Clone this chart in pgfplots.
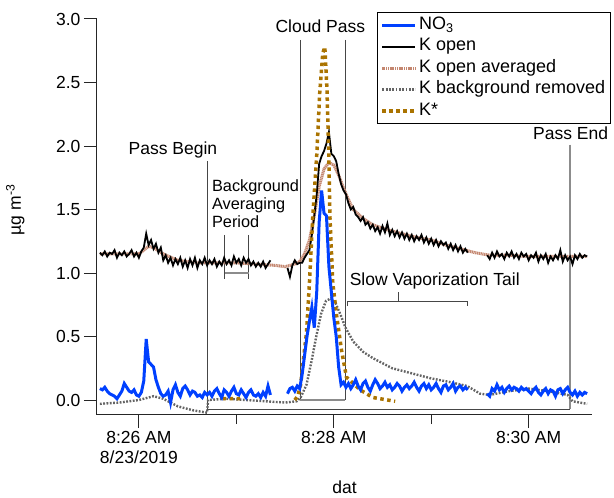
\documentclass[border=0pt]{standalone}
\usepackage{fontspec}
\setmainfont{Liberation Sans}
\usepackage{pgfplots}
\usepackage{pgfplotstable}
\pgfplotsset{compat=1.18}
\definecolor{no3blue}{RGB}{0,64,255}
\definecolor{kavg}{RGB}{196,135,112}
\definecolor{kbg}{RGB}{100,100,100}
\definecolor{kstar}{RGB}{170,115,0}
\definecolor{annc}{RGB}{70,70,70}

\pgfplotstableread{
t no3 kopen
25.600 0.09 1.16
25.625 0.08 1.14
25.650 0.10 1.17
25.675 0.07 1.13
25.700 0.05 1.16
25.725 0.04 1.15
25.750 0.03 1.18
25.775 0.01 1.12
25.800 0.04 1.16
25.825 0.07 1.14
25.850 0.13 1.17
25.875 0.10 1.13
25.900 0.07 1.15
25.925 0.06 1.18
25.950 0.08 1.13
25.975 0.04 1.16
26.000 0.03 1.12
26.025 0.06 1.17
26.050 0.15 1.20
26.075 0.48 1.31
26.100 0.30 1.22
26.125 0.28 1.26
26.150 0.26 1.19
26.175 0.16 1.23
26.200 0.10 1.16
26.225 0.05 1.20
26.250 0.03 1.10
26.275 0.04 1.14
26.300 0.07 1.08
26.325 -0.02 1.12
26.350 0.08 1.06
26.375 0.12 1.11
26.400 0.06 1.07
26.425 0.03 1.12
26.450 0.09 1.05
26.475 0.11 1.10
26.500 0.08 1.04
26.525 0.04 1.11
26.550 0.07 1.06
26.575 0.06 1.12
26.600 0.03 1.04
26.625 0.04 1.10
26.650 0.02 1.07
26.675 0.06 1.12
26.700 0.04 1.06
26.725 0.06 1.10
26.750 0.03 1.07
26.775 0.07 1.11
26.800 0.09 1.05
26.825 0.05 1.09
26.850 0.02 1.06
26.875 0.08 1.12
26.900 0.06 1.07
26.925 0.03 1.10
26.950 0.07 1.06
26.975 0.10 1.13
27.000 0.05 1.08
27.025 0.04 1.11
27.050 0.08 1.06
27.075 0.05 1.12
27.100 0.02 1.08
27.125 0.06 1.11
27.150 0.08 1.06
27.175 0.04 1.09
27.200 0.03 1.05
27.225 0.05 1.08
27.250 0.02 1.05
27.275 0.06 1.09
27.300 0.03 1.04
27.325 0.11 1.07
27.350 0.04 1.10
27.375 nan nan
27.525 0.05 1.04
27.550 0.09 0.97
27.575 0.10 1.06
27.600 0.07 1.10
27.625 0.11 1.07
27.650 0.09 1.08
27.675 0.20 1.08
27.700 0.35 1.12
27.725 0.50 1.15
27.750 0.62 1.18
27.775 0.73 1.30
27.800 0.57 1.45
27.825 0.85 1.62
27.850 1.40 1.86
27.875 1.65 1.92
27.900 1.47 1.96
27.925 1.45 2.02
27.950 1.05 2.11
27.975 0.85 1.94
28.000 0.65 1.92
28.025 0.50 1.88
28.050 0.26 1.78
28.075 0.12 1.70
28.100 0.14 1.65
28.125 0.10 1.62
28.150 0.13 1.55
28.175 0.09 1.50
28.200 0.12 1.52
28.225 0.16 1.46
28.250 0.11 1.44
28.275 0.08 1.41
28.300 0.13 1.44
28.325 0.15 1.38
28.350 0.10 1.40
28.375 0.07 1.35
28.400 0.12 1.38
28.425 0.16 1.33
28.450 0.13 1.36
28.475 0.09 1.31
28.500 0.11 1.37
28.525 0.14 1.32
28.550 0.10 1.39
28.575 0.12 1.30
28.600 0.08 1.34
28.625 0.10 1.29
28.650 0.13 1.33
28.675 0.11 1.28
28.700 0.07 1.32
28.725 0.10 1.27
28.750 0.12 1.31
28.775 0.09 1.26
28.800 0.11 1.30
28.825 0.14 1.25
28.850 0.10 1.29
28.875 0.07 1.26
28.900 0.11 1.30
28.925 0.13 1.24
28.950 0.09 1.28
28.975 0.12 1.23
29.000 0.08 1.27
29.025 0.10 1.22
29.050 0.13 1.26
29.075 0.09 1.21
29.100 0.06 1.25
29.125 0.11 1.22
29.150 0.12 1.24
29.175 0.08 1.19
29.200 0.10 1.23
29.225 0.13 1.18
29.250 0.07 1.22
29.275 0.10 1.17
29.300 0.11 1.21
29.325 0.08 1.16
29.350 0.10 1.19
29.375 0.08 1.16
29.400 nan nan
29.575 0.05 1.14
29.600 0.03 1.11
29.625 0.09 1.16
29.650 0.07 1.12
29.675 0.12 1.17
29.700 0.08 1.13
29.725 0.10 1.15
29.750 0.06 1.11
29.775 0.09 1.16
29.800 0.11 1.13
29.825 0.08 1.17
29.850 0.10 1.12
29.875 0.09 1.15
29.900 0.07 1.11
29.925 0.10 1.16
29.950 0.08 1.13
29.975 0.09 1.15
30.000 0.07 1.10
30.025 0.05 1.14
30.050 0.08 1.12
30.075 0.10 1.16
30.100 0.06 1.09
30.125 0.04 1.14
30.150 0.07 1.11
30.175 0.09 1.15
30.200 0.05 1.08
30.225 0.08 1.13
30.250 0.07 1.10
30.275 0.03 1.14
30.300 0.08 1.11
30.325 0.09 1.18
30.350 0.05 1.09
30.375 0.08 1.14
30.400 0.10 1.10
30.425 0.06 1.13
30.450 0.04 1.07
30.475 0.07 1.14
30.500 0.03 1.11
30.525 0.06 1.15
30.550 0.04 1.12
30.575 0.06 1.14
30.600 0.05 1.13
}\tblmain

\pgfplotstableread{
t y
25.60 1.15
25.80 1.15
26.00 1.15
26.05 1.18
26.10 1.21
26.15 1.20
26.25 1.15
26.40 1.10
26.60 1.08
26.80 1.08
27.00 1.08
27.20 1.07
27.40 1.06
27.50 1.05
27.60 1.07
27.65 1.09
27.70 1.15
27.75 1.26
27.80 1.45
27.85 1.68
27.90 1.82
27.95 1.87
28.00 1.85
28.05 1.77
28.10 1.67
28.15 1.58
28.20 1.50
28.30 1.43
28.40 1.38
28.55 1.34
28.70 1.31
28.85 1.28
29.00 1.26
29.15 1.22
29.30 1.19
29.45 1.16
29.60 1.14
29.80 1.14
30.00 1.13
30.20 1.13
30.40 1.13
30.60 1.13
}\tblavg

\pgfplotstableread{
t y
25.60 -0.03
25.80 -0.02
26.00 0.00
26.15 0.03
26.25 0.01
26.40 -0.05
26.55 -0.08
26.70 -0.10
26.71 0.00
26.90 0.01
27.10 0.00
27.30 -0.01
27.50 -0.02
27.62 -0.01
27.66 0.02
27.72 0.12
27.77 0.30
27.82 0.50
27.87 0.68
27.92 0.78
27.97 0.80
28.02 0.76
28.07 0.67
28.12 0.57
28.20 0.46
28.30 0.38
28.40 0.33
28.60 0.25
28.80 0.21
29.00 0.17
29.20 0.14
29.37 0.11
29.50 0.05
29.60 0.04
29.80 0.07
30.00 0.09
30.20 0.07
30.40 0.04
30.45 -0.01
30.60 -0.03
}\tblbg

\pgfplotstableread{
t y
26.86 0.01
27.07 0.01
27.08 nan
27.60 0.00
27.63 0.03
27.66 0.12
27.69 0.33
27.72 0.53
27.75 0.92
27.785 1.45
27.826 1.94
27.856 2.42
27.887 2.73
27.908 2.78
27.93 2.45
27.95 1.90
27.96 1.45
27.99 0.92
28.03 0.66
28.08 0.39
28.13 0.18
28.27 0.08
28.40 0.02
28.63 -0.01
}\tblstar

\begin{document}
\begin{tikzpicture}
\begin{axis}[
  scale only axis, width=495pt, height=396pt,
  xmin=25.57, xmax=30.65, ymin=-0.118, ymax=3.0,
  clip=false,
  axis x line*=bottom, axis y line*=left,
  axis line style={line width=1pt, black!85},
  xtick={26,28,30}, minor xtick={27,29},
  xticklabels={{8:26 AM\\8/23/2019},{8:28 AM},{8:30 AM}},
  xticklabel style={align=center},
  ytick={0,0.5,1,1.5,2,2.5,3},
  yticklabel style={/pgf/number format/.cd, fixed, fixed zerofill, precision=1},
  /pgf/number format/assume math mode=true,
  tick align=outside,
  major tick length=13pt, minor tick length=9pt,
  tick style={line width=1pt, black!85},
  tick label style={font=\fontsize{17.5}{20}\selectfont},
  xlabel={dat}, ylabel={µg m\textsuperscript{-3}},
  label style={font=\fontsize{17.5}{20}\selectfont},
  xlabel style={at={(axis description cs:0.5,-0.197)}, anchor=base},
  ylabel style={at={(axis description cs:-0.165,0.518)}, anchor=center},
  unbounded coords=jump,
  legend cell align=left,
  legend style={at={(0.566,1.018)}, anchor=north west, draw=black, line width=1pt,
    font=\fontsize{18}{20}\selectfont, inner xsep=3pt, inner ysep=2pt, row sep=0pt,
    nodes={text height=13pt, text depth=4.5pt, inner sep=2pt}},
  legend image code/.code={\draw[#1] (0pt,0pt) -- (33pt,0pt);},
]
\coordinate (O) at (rel axis cs:0,0);
% legend entries
\addlegendimage{no3blue, line width=3pt}
\addlegendentry{NO\textsubscript{3}}
\addlegendimage{black, line width=1.8pt}
\addlegendentry{K open}
\addlegendimage{kavg, line width=3pt, dash pattern=on 1.2pt off 0.6pt}
\addlegendentry{K open averaged}
\addlegendimage{kbg, line width=2.4pt, dash pattern=on 1.8pt off 1.5pt}
\addlegendentry{K background removed}
\addlegendimage{kstar, line width=3.5pt, dash pattern=on 3.5pt off 3.5pt}
\addlegendentry{K*}

% annotations
\draw[annc, line width=0.8pt] (axis cs:26.708,1.88) -- (axis cs:26.708,-0.071) -- (axis cs:30.426,-0.071);
\draw[black!45, line width=1.6pt] (axis cs:30.426,2.01) -- (axis cs:30.426,-0.071);
\draw[annc, line width=0.8pt] (axis cs:27.658,2.835) -- (axis cs:27.658,0);
\draw[annc, line width=0.8pt] (axis cs:28.116,2.835) -- (axis cs:28.116,0);
\draw[black!45, line width=1.5pt] (axis cs:27.658,0) -- (axis cs:28.116,0);
\draw[annc, line width=0.8pt] (axis cs:26.882,1.30) -- (axis cs:26.882,0.953);
\draw[annc, line width=0.8pt] (axis cs:27.128,1.30) -- (axis cs:27.128,0.953);
\draw[black!45, line width=1.2pt] (axis cs:26.882,1.0) -- (axis cs:27.128,1.0);
\draw[annc, line width=0.8pt] (axis cs:28.144,0.74) -- (axis cs:28.144,0.78) -- (axis cs:29.374,0.78) -- (axis cs:29.374,0.74);
\draw[annc, line width=0.8pt] (axis cs:28.667,0.78) -- (axis cs:28.667,0.85);

\node[anchor=base, font=\fontsize{17.5}{20}\selectfont, inner sep=0pt] at (axis cs:26.349,1.937) {Pass Begin};
\node[anchor=base west, font=\fontsize{16.3}{20}\selectfont, inner sep=0pt] at (axis cs:26.749,1.638) {Background};
\node[anchor=base west, font=\fontsize{16.3}{20}\selectfont, inner sep=0pt] at (axis cs:26.749,1.500) {Averaging};
\node[anchor=base west, font=\fontsize{16.3}{20}\selectfont, inner sep=0pt] at (axis cs:26.749,1.362) {Period};
\node[anchor=base, font=\fontsize{17.5}{20}\selectfont, inner sep=0pt] at (axis cs:27.862,2.89) {Cloud Pass};
\node[anchor=base, font=\fontsize{17.5}{20}\selectfont, inner sep=0pt] at (axis cs:30.431,2.055) {Pass End};
\node[anchor=base, font=\fontsize{17.5}{20}\selectfont, inner sep=0pt] at (axis cs:29.036,0.898) {Slow Vaporization Tail};

% data
\addplot[forget plot, kavg, line width=3pt, dash pattern=on 1.2pt off 0.6pt] table[x=t, y=y] {\tblavg};
\addplot[forget plot, black, line width=1.8pt] table[x=t, y=kopen] {\tblmain};
\addplot[forget plot, kbg, line width=2.4pt, dash pattern=on 1.8pt off 1.5pt] table[x=t, y=y] {\tblbg};
\addplot[forget plot, kstar, line width=3.5pt, dash pattern=on 3.5pt off 3.5pt] table[x=t, y=y] {\tblstar};
\addplot[forget plot, no3blue, line width=3pt] table[x=t, y=no3] {\tblmain};
\end{axis}
\pgfresetboundingbox
\path[use as bounding box] ([shift={(-97pt,-83pt)}]O) rectangle ([shift={(517pt,415pt)}]O);
\end{tikzpicture}
\end{document}
